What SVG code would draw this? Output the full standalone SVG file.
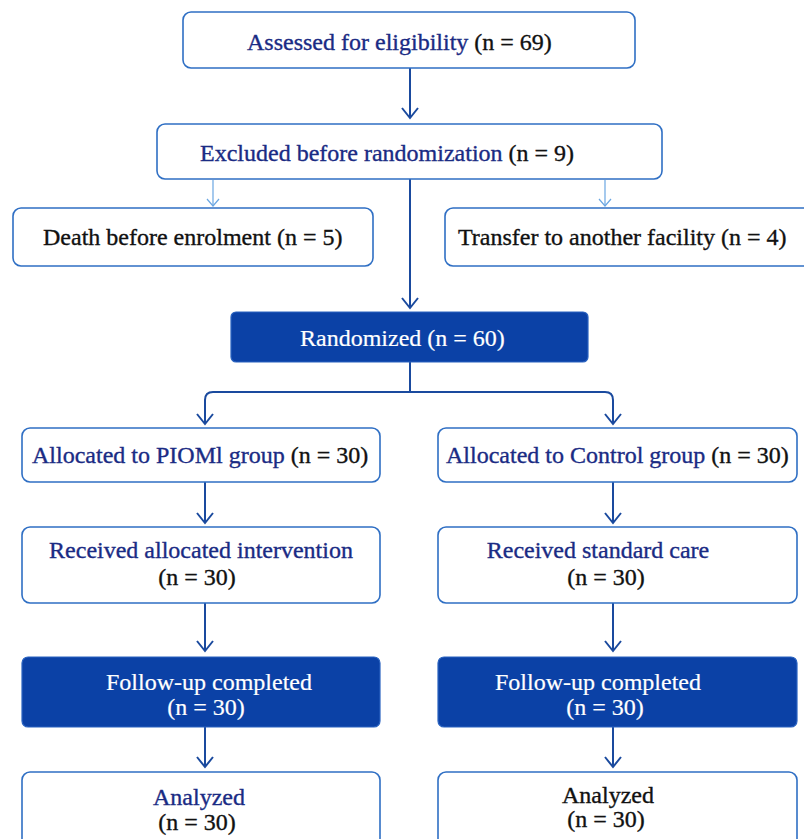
<svg xmlns="http://www.w3.org/2000/svg" width="804" height="839" viewBox="0 0 804 839">
<defs>
<marker id="arr" viewBox="-12 -10 14 20" refX="0" refY="0" markerWidth="14" markerHeight="20" markerUnits="userSpaceOnUse" orient="auto">
<path d="M-10,-8 L0,0 L-10,8" fill="none" stroke="#1a4a9e" stroke-width="2"/>
</marker>
<marker id="arrL" viewBox="-10 -8 12 16" refX="0" refY="0" markerWidth="12" markerHeight="16" markerUnits="userSpaceOnUse" orient="auto">
<path d="M-7,-6 L0,0 L-7,6" fill="none" stroke="#6aa6e2" stroke-width="1.2"/>
</marker>
</defs>
<style>
.box{fill:#ffffff;stroke:#2f6fc4;stroke-width:1.6}
.dark{fill:#0b41a6;stroke:#2a63c0;stroke-width:1.2}
text{font-family:"Liberation Serif","Times New Roman",serif;font-size:24px;stroke-width:0.35px}
.nv{fill:#1a2b84;stroke:#1a2b84}
.bk{fill:#111111;stroke:#111111}
.wh{fill:#ffffff;stroke:#ffffff;stroke-width:0.2px}
.ln{fill:none;stroke:#1a4a9e;stroke-width:2}
.lt{fill:none;stroke:#6aa6e2;stroke-width:1.2}
</style>
<rect width="804" height="839" fill="#ffffff"/>
<g id="connectors">
<path class="ln" d="M410,68 V118" marker-end="url(#arr)"/>
<path class="ln" d="M410,179 V308" marker-end="url(#arr)"/>
<path class="lt" d="M213,180 V206" marker-end="url(#arrL)"/>
<path class="lt" d="M605,180 V206" marker-end="url(#arrL)"/>
<path class="ln" d="M410,362 V392"/>
<path class="ln" d="M205,424 V400 Q205,392 213,392 H605 Q613,392 613,400 V424" marker-end="url(#arr)"/>
<path class="ln" d="M205,400 V424" marker-end="url(#arr)"/>
<path class="ln" d="M205,482 V523" marker-end="url(#arr)"/>
<path class="ln" d="M613,482 V523" marker-end="url(#arr)"/>
<path class="ln" d="M205,603 V651" marker-end="url(#arr)"/>
<path class="ln" d="M613,603 V651" marker-end="url(#arr)"/>
<path class="ln" d="M205,727 V767" marker-end="url(#arr)"/>
<path class="ln" d="M613,727 V767" marker-end="url(#arr)"/>
</g>
<g id="assessed">
<rect class="box" x="183" y="12" width="452" height="56" rx="8"/>
<text x="247" y="50"><tspan class="nv">Assessed for eligibility</tspan><tspan class="bk"> (n = 69)</tspan></text>
</g>
<g id="excluded">
<rect class="box" x="157" y="124" width="505" height="55" rx="8"/>
<text x="200" y="161"><tspan class="nv">Excluded before randomization</tspan><tspan class="bk"> (n = 9)</tspan></text>
</g>
<g id="death">
<rect class="box" x="13" y="208" width="360" height="58" rx="8"/>
<text class="bk" x="43" y="245">Death before enrolment (n = 5)</text>
</g>
<g id="transfer">
<rect class="box" x="445" y="208" width="370" height="58" rx="8"/>
<text class="bk" x="458" y="245">Transfer to another facility (n = 4)</text>
</g>
<g id="randomized">
<rect class="dark" x="231" y="312" width="357" height="50" rx="5"/>
<text class="wh" x="300" y="346">Randomized (n = 60)</text>
</g>
<g id="alloc-piomi">
<rect class="box" x="22" y="428" width="358" height="54" rx="8"/>
<text x="32" y="463"><tspan class="nv">Allocated to PIOMl group</tspan><tspan class="bk"> (n = 30)</tspan></text>
</g>
<g id="alloc-control">
<rect class="box" x="438" y="428" width="359" height="54" rx="8"/>
<text x="446" y="463"><tspan class="nv">Allocated to Control group</tspan><tspan class="bk"> (n = 30)</tspan></text>
</g>
<g id="received-piomi">
<rect class="box" x="22" y="527" width="358" height="76" rx="8"/>
<text class="nv" x="201" y="558" text-anchor="middle">Received allocated intervention</text>
<text class="bk" x="197" y="585" text-anchor="middle">(n = 30)</text>
</g>
<g id="received-control">
<rect class="box" x="438" y="527" width="359" height="76" rx="8"/>
<text class="nv" x="598" y="558" text-anchor="middle">Received standard care</text>
<text class="bk" x="606" y="585" text-anchor="middle">(n = 30)</text>
</g>
<g id="followup-piomi">
<rect class="dark" x="22" y="657" width="358" height="70" rx="6"/>
<text class="wh" x="209" y="690" text-anchor="middle">Follow-up completed</text>
<text class="wh" x="206" y="715" text-anchor="middle">(n = 30)</text>
</g>
<g id="followup-control">
<rect class="dark" x="438" y="657" width="359" height="70" rx="6"/>
<text class="wh" x="598" y="690" text-anchor="middle">Follow-up completed</text>
<text class="wh" x="605" y="715" text-anchor="middle">(n = 30)</text>
</g>
<g id="analyzed-piomi">
<rect class="box" x="22" y="772" width="358" height="80" rx="8"/>
<text class="nv" x="199" y="805" text-anchor="middle">Analyzed</text>
<text class="bk" x="197" y="830" text-anchor="middle">(n = 30)</text>
</g>
<g id="analyzed-control">
<rect class="box" x="438" y="772" width="359" height="80" rx="8"/>
<text class="bk" x="608" y="803" text-anchor="middle">Analyzed</text>
<text class="bk" x="606" y="827" text-anchor="middle">(n = 30)</text>
</g>
</svg>
